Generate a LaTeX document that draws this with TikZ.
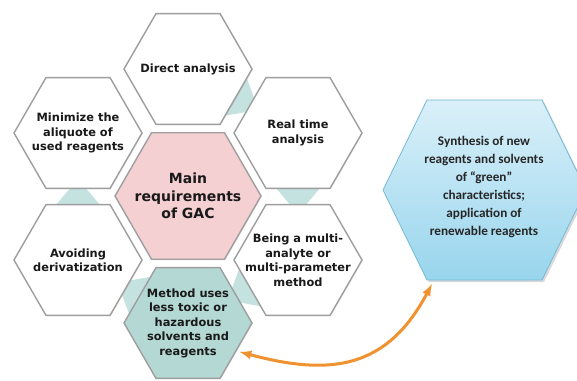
\documentclass[tikz,border=0pt]{standalone}
\usepackage{fontspec}
\setmainfont{DejaVu Sans}
\newfontfamily\carlito{Carlito}
\usetikzlibrary{shapes.geometric,calc,shadows}
\definecolor{hexgray}{RGB}{158,158,158}
\definecolor{gacpink}{RGB}{245,208,211}
\definecolor{methodteal}{RGB}{180,217,212}
\definecolor{linkteal}{RGB}{196,226,223}
\definecolor{synthtop}{RGB}{218,240,249}
\definecolor{synthbottom}{RGB}{152,213,237}
\definecolor{synthline}{RGB}{116,186,214}
\definecolor{arroworange}{RGB}{240,146,48}
\tikzset{
  outerhex/.style={regular polygon, regular polygon sides=6, minimum size=128pt,
    inner sep=0pt, draw=hexgray, line width=1.4pt, fill=white,
    drop shadow={opacity=0.18, shadow xshift=0.8pt, shadow yshift=-0.8pt}},
  mainhex/.style={outerhex, minimum size=146pt, fill=gacpink},
  methodhex/.style={outerhex, fill=methodteal},
  hexlabel/.style={align=center, text=black!90, font=\bfseries\fontsize{11.4}{14.5}\selectfont},
  mainlabel/.style={hexlabel, font=\bfseries\fontsize{14}{17.5}\selectfont},
  synthlabel/.style={align=center, text=black!85, font=\carlito\bfseries\fontsize{13.2}{18}\selectfont},
  link/.style={fill=linkteal},
}

\begin{document}
\begin{tikzpicture}[x=1pt,y=1pt]
\useasboundingbox (0,0) rectangle (577,380);
\coordinate (C) at (188,184);
\coordinate (T) at (188,311);
\coordinate (UR) at (298,247);
\coordinate (LR) at (298,120);
\coordinate (B) at (188,57);
\coordinate (LL) at (78,120);
\coordinate (UL) at (78,247);

% small teal links between neighbouring hexagons
\fill[link] ($(T)!0.64!(UR)$) -- ($($(T)!0.405!(UR)$)!25pt!90:(UR)$) -- ($($(T)!0.405!(UR)$)!25pt!-90:(UR)$) -- cycle;
\fill[link] ($(UR)!0.64!(LR)$) -- ($($(UR)!0.405!(LR)$)!25pt!90:(LR)$) -- ($($(UR)!0.405!(LR)$)!25pt!-90:(LR)$) -- cycle;
\fill[link] ($(LR)!0.64!(B)$) -- ($($(LR)!0.405!(B)$)!25pt!90:(B)$) -- ($($(LR)!0.405!(B)$)!25pt!-90:(B)$) -- cycle;
\fill[link] ($(B)!0.64!(LL)$) -- ($($(B)!0.405!(LL)$)!25pt!90:(LL)$) -- ($($(B)!0.405!(LL)$)!25pt!-90:(LL)$) -- cycle;
\fill[link] ($(LL)!0.64!(UL)$) -- ($($(LL)!0.405!(UL)$)!25pt!90:(UL)$) -- ($($(LL)!0.405!(UL)$)!25pt!-90:(UL)$) -- cycle;

% hexagon ring
\node[mainhex] (gac) at (C) {};
\node[outerhex] (direct) at (T) {};
\node[outerhex] (realtime) at (UR) {};
\node[outerhex] (multi) at (LR) {};
\node[methodhex] (method) at (B) {};
\node[outerhex] (deriv) at (LL) {};
\node[outerhex] (aliquote) at (UL) {};

\node[mainlabel] (gac-t) at (gac) {Main\\requirements\\of GAC};
\node[hexlabel] (direct-t) at (direct) {Direct analysis};
\node[hexlabel] (realtime-t) at (realtime) {Real time\\analysis};
\node[hexlabel] (multi-t) at (multi) {Being a multi-\\analyte or\\multi-parameter\\method};
\node[hexlabel] (method-t) at (method) {Method uses\\less toxic or\\hazardous\\solvents and\\reagents};
\node[hexlabel] (deriv-t) at (deriv) {Avoiding\\derivatization};
\node[hexlabel] (aliquote-t) at (aliquote) {Minimize the\\aliquote of\\used reagents};

% blue hexagon
\path[draw=synthline, line width=0.8pt, top color=synthtop, bottom color=synthbottom,
  drop shadow={opacity=0.3, shadow xshift=2pt, shadow yshift=-2pt}]
  (427,280) -- (542,280) -- (586,190) -- (542,100) -- (427,100) -- (383,190) -- cycle;
\coordinate (synth-tip) at (432,96);
\node[synthlabel] (synth-t) at (484,193) {Synthesis of new\\reagents and solvents\\of “green”\\characteristics;\\application of\\renewable reagents};

\draw[arroworange, line width=3pt, latex-latex, shorten <=3pt]
  (method.-30) to[out=-15, in=-118, looseness=1.2] (synth-tip);
\end{tikzpicture}
\end{document}
